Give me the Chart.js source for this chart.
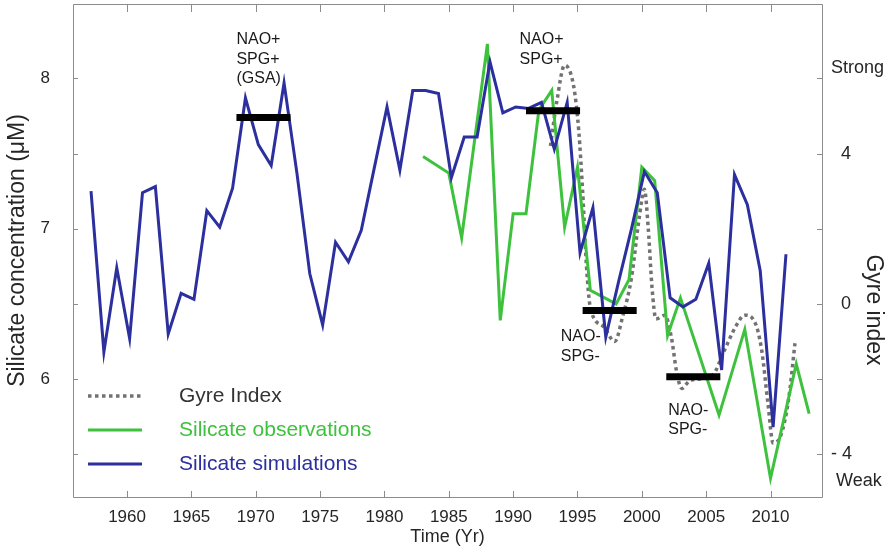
<!DOCTYPE html>
<html>
<head>
<meta charset="utf-8">
<title>Silicate concentration and gyre index</title>
<script src="https://cdn.jsdelivr.net/npm/chart.js@4.4.1/dist/chart.umd.min.js"></script>
<style>
  html, body { margin: 0; padding: 0; background: #fff; }
  #wrap { width: 891px; height: 551px; }
</style>
</head>
<body>
<div id="wrap"><canvas id="chart" width="891" height="551"></canvas></div>
<script>
// Silicate simulations (model, annual)
const simYears = [1957, 1958, 1959, 1960, 1961, 1962, 1963, 1964, 1965, 1966,
                  1967, 1968, 1969, 1970, 1971, 1972, 1973, 1974, 1975, 1976,
                  1977, 1978, 1979, 1980, 1981, 1982, 1983, 1984, 1985, 1986,
                  1987, 1988, 1989, 1990, 1991, 1992, 1993, 1994, 1995, 1996,
                  1997, 1998, 1999, 2000, 2001, 2002, 2003, 2004, 2005, 2006,
                  2007, 2008, 2009, 2010, 2011];
const simValues = [7.25, 6.18, 6.74, 6.27, 7.24, 7.28, 6.30, 6.57, 6.53, 7.12,
                   7.01, 7.27, 7.87, 7.56, 7.42, 7.97, 7.37, 6.70, 6.36, 6.91,
                   6.78, 6.99, 7.40, 7.81, 7.39, 7.92, 7.92, 7.90, 7.34, 7.61,
                   7.61, 8.11, 7.77, 7.81, 7.80, 7.84, 7.53, 7.84, 6.84, 7.14,
                   6.28, 6.65, 7.00, 7.38, 7.24, 6.54, 6.48, 6.53, 6.77, 6.06,
                   7.36, 7.16, 6.72, 5.68, 6.83];
// model output is plotted a little after the start of each year
const SIM_OFFSET = 0.2;

// Silicate observations
const obsYears = [1983, 1985, 1986, 1988, 1989, 1990, 1991, 1992, 1993, 1994,
                  1995, 1996, 1998, 1999, 2000, 2001, 2002, 2003, 2006, 2008,
                  2010, 2012, 2013];
const obsValues = [7.48, 7.37, 6.94, 8.23, 6.39, 7.10, 7.10, 7.79, 7.92, 7.01,
                   7.41, 6.59, 6.50, 6.66, 7.41, 7.32, 6.29, 6.54, 5.76, 6.33,
                   5.34, 6.10, 5.77];

// Gyre index (right axis)
const gyreYears = [1992.9, 1993.4, 1994.0, 1994.7, 1995.1, 1995.4, 1995.7, 1996.0,
                   1997.0, 1997.9, 1998.5, 1999.2, 1999.8, 2000.2, 2000.5, 2000.8,
                   2001.1, 2001.8, 2002.3, 2002.7, 2003.1, 2003.7, 2004.5, 2005.5,
                   2006.4, 2007.3, 2008.0, 2008.8, 2009.3, 2009.8, 2010.2, 2010.8,
                   2011.4, 2011.9];
const gyreValues = [4.2, 5.4, 6.35, 5.8, 4.6, 3.0, 1.0, -0.1,
                    -0.6, -1.0, -0.35, 0.7, 2.3, 3.05, 2.0, 0.4,
                    -0.4, -0.3, -0.9, -1.8, -2.25, -2.05, -2.0, -1.9,
                    -1.25, -0.6, -0.3, -0.5, -1.2, -2.65, -3.7, -3.5,
                    -2.55, -1.05];

// NAO / SPG periods (black bars)
const periodStart = [1968.5, 1991.0, 1995.4, 2001.9];
const periodEnd = [1972.7, 1995.2, 1999.6, 2006.1];
const periodLevel = [7.74, 7.785, 6.455, 6.015];
const periodText = [['NAO+', 'SPG+', '(GSA)'], ['NAO+', 'SPG+'], ['NAO-', 'SPG-'], ['NAO-', 'SPG-']];
const periodTextYear = [1968.5, 1990.5, 1993.7, 2002.05];
const periodTextValue = [8.255, 8.255, 6.28, 5.79];

// Ticks
const xTickYears = [1960, 1965, 1970, 1975, 1980, 1985, 1990, 1995, 2000, 2005, 2010];
const leftLabelValues = [6, 7, 8];
const leftMarkValues = [5.5, 6, 6.5, 7, 7.5, 8];
const rightLabelValues = [-4.71, -4, 0, 4, 6.27];
const rightLabelTexts = [' Weak', '- 4', '  0', '  4', 'Strong'];
const rightMarkValues = [-4, -2, 0, 2, 4, 6];

const FONT = '"Liberation Sans", Arial, Helvetica, sans-serif';
const BLUE = '#2c2f9e';
const GREEN = '#3ec23e';
const GRAY = '#727272';
const TEXT = '#262626';
const FRAME = '#8c8c8c';

const toPoints = (xs, ys, dx) => xs.map((x, i) => ({ x: x + (dx || 0), y: ys[i] }));

const periodSets = periodStart.map((s, i) => ({
    label: 'period' + i,
    data: [{ x: s, y: periodLevel[i] }, { x: periodEnd[i], y: periodLevel[i] }],
    yAxisID: 'y',
    borderColor: '#000',
    borderWidth: 7,
    borderCapStyle: 'butt',
    pointRadius: 0
}));

// fixed axis sizes so the plot box sits where the original one does
function fixSize(prop, size) {
    return s => {
        s[prop] = size;
        s.paddingTop = 0;
        s.paddingBottom = 0;
        s.paddingLeft = 0;
        s.paddingRight = 0;
    };
}

// inward tick marks, frame, legend, annotations, right title
const decorPlugin = {
    id: 'decor',
    afterDraw(chart) {
        const ctx = chart.ctx;
        const a = chart.chartArea;
        const sx = chart.scales.x, sy = chart.scales.y, sy2 = chart.scales.y2;
        ctx.save();

        // frame + ticks
        ctx.strokeStyle = FRAME;
        ctx.lineWidth = 1;
        ctx.beginPath();
        ctx.rect(a.left + 0.5, a.top + 0.5, a.right - a.left, a.bottom - a.top);
        xTickYears.forEach(v => {
            const px = Math.round(sx.getPixelForValue(v)) + 0.5;
            ctx.moveTo(px, a.bottom); ctx.lineTo(px, a.bottom - 6);
            ctx.moveTo(px, a.top); ctx.lineTo(px, a.top + 8);
        });
        leftMarkValues.forEach(v => {
            const py = Math.round(sy.getPixelForValue(v)) + 0.5;
            ctx.moveTo(a.left, py); ctx.lineTo(a.left + 5, py);
        });
        rightMarkValues.forEach(v => {
            const py = Math.round(sy2.getPixelForValue(v)) + 0.5;
            ctx.moveTo(a.right, py); ctx.lineTo(a.right - 5, py);
        });
        ctx.stroke();

        // annotations
        ctx.fillStyle = '#1a1a1a';
        ctx.font = '16px ' + FONT;
        ctx.textAlign = 'left';
        ctx.textBaseline = 'middle';
        periodText.forEach((lines, i) => {
            const px = sx.getPixelForValue(periodTextYear[i]);
            const py = sy.getPixelForValue(periodTextValue[i]);
            lines.forEach((t, j) => ctx.fillText(t, px, py + j * 19.5));
        });

        // legend
        const items = [chart.data.datasets.find(d => d.label === 'Gyre Index'),
                       chart.data.datasets.find(d => d.label === 'Silicate observations'),
                       chart.data.datasets.find(d => d.label === 'Silicate simulations')];
        const textColors = ['#333333', GREEN, BLUE];
        ctx.font = '21px ' + FONT;
        items.forEach((d, i) => {
            const y = 396 + i * 34;
            ctx.strokeStyle = d.borderColor;
            ctx.lineWidth = d.borderWidth;
            ctx.setLineDash(d.borderDash || []);
            ctx.beginPath();
            ctx.moveTo(88, y); ctx.lineTo(142, y);
            ctx.stroke();
            ctx.setLineDash([]);
            ctx.fillStyle = textColors[i];
            ctx.fillText(d.label, 179, y);
        });

        // right axis title
        ctx.fillStyle = TEXT;
        ctx.font = '23px ' + FONT;
        ctx.textAlign = 'center';
        ctx.translate(873, 310);
        ctx.rotate(Math.PI / 2);
        ctx.fillText('Gyre index', 0, 0);
        ctx.restore();
    }
};

new Chart(document.getElementById('chart'), {
    type: 'line',
    data: {
        datasets: [
            ...periodSets,
            {
                label: 'Silicate simulations',
                data: toPoints(simYears, simValues, SIM_OFFSET),
                yAxisID: 'y',
                borderColor: BLUE,
                borderWidth: 3,
                pointRadius: 0
            },
            {
                label: 'Silicate observations',
                data: toPoints(obsYears, obsValues),
                yAxisID: 'y',
                borderColor: GREEN,
                borderWidth: 3,
                pointRadius: 0
            },
            {
                label: 'Gyre Index',
                data: toPoints(gyreYears, gyreValues),
                yAxisID: 'y2',
                borderColor: GRAY,
                borderWidth: 3.5,
                borderDash: [3.5, 3.5],
                cubicInterpolationMode: 'monotone',
                pointRadius: 0
            }
        ]
    },
    options: {
        responsive: false,
        animation: false,
        layout: { padding: { top: 4, right: 0, bottom: 0, left: 0 } },
        plugins: {
            legend: { display: false },
            tooltip: { enabled: false }
        },
        scales: {
            x: {
                type: 'linear',
                min: 1955.8,
                max: 2014.0,
                grid: { display: false, drawTicks: false },
                border: { display: false },
                afterBuildTicks: s => { s.ticks = xTickYears.map(v => ({ value: v })); },
                afterFit: fixSize('height', 54),
                ticks: {
                    autoSkip: false,
                    maxRotation: 0,
                    padding: 10,
                    color: TEXT,
                    font: { family: FONT, size: 17 },
                    callback: v => String(v)
                },
                title: {
                    display: true,
                    text: 'Time (Yr)',
                    color: TEXT,
                    font: { family: FONT, size: 18 },
                    padding: { top: 0, bottom: 3 }
                }
            },
            y: {
                position: 'left',
                min: 5.215,
                max: 8.495,
                grid: { display: false, drawTicks: false },
                border: { display: false },
                afterBuildTicks: s => { s.ticks = leftLabelValues.map(v => ({ value: v })); },
                afterFit: fixSize('width', 73),
                ticks: {
                    autoSkip: false,
                    padding: 23,
                    color: TEXT,
                    font: { family: FONT, size: 17 },
                    callback: v => String(v)
                },
                title: {
                    display: true,
                    text: 'Silicate concentration (μM)',
                    color: TEXT,
                    font: { family: FONT, size: 23 },
                    padding: { top: 4, bottom: 0 }
                }
            },
            y2: {
                position: 'right',
                min: -5.14,
                max: 7.98,
                grid: { display: false, drawTicks: false },
                border: { display: false },
                afterBuildTicks: s => { s.ticks = rightLabelValues.map(v => ({ value: v })); },
                afterFit: fixSize('width', 69),
                ticks: {
                    autoSkip: false,
                    padding: 9,
                    color: TEXT,
                    font: { family: FONT, size: 18 },
                    callback: (v, i) => rightLabelTexts[i]
                }
            }
        }
    },
    plugins: [decorPlugin]
});
</script>
</body>
</html>
